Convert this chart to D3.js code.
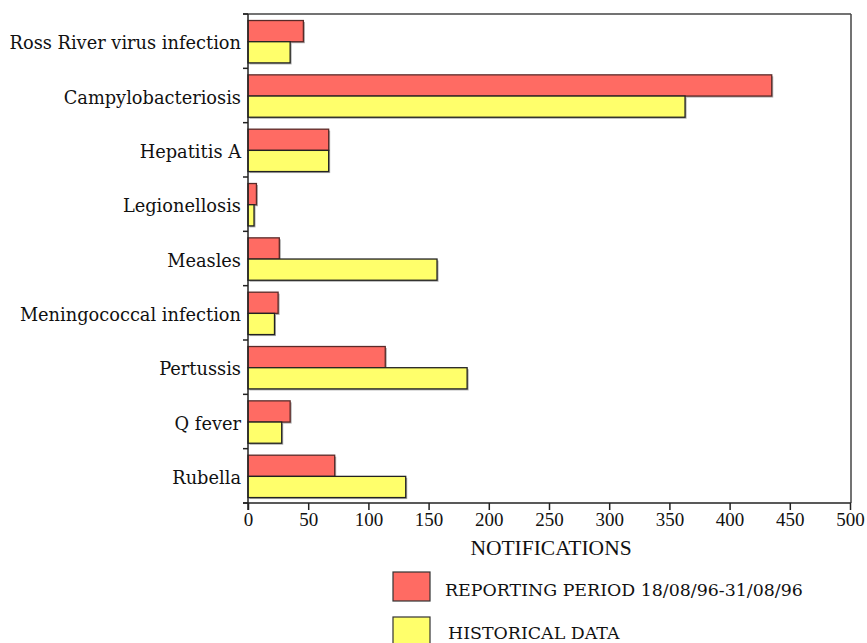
<!DOCTYPE html>
<html><head><meta charset="utf-8">
<script src="https://cdn.jsdelivr.net/npm/d3@7"></script>
<style>
html,body{margin:0;padding:0;background:#fff;}
svg{display:block;}
text{font-family:"Liberation Serif","Times New Roman",serif;fill:#111;}
.cat,.leg{font-family:"DejaVu Serif",serif;}
</style></head>
<body>
<svg id="chart" width="867" height="643"></svg>
<script>
const categories = ["Ross River virus infection","Campylobacteriosis","Hepatitis A","Legionellosis","Measles","Meningococcal infection","Pertussis","Q fever","Rubella"];
const reportingValues = [46,435,67,7,26,25,114,35,72];
const historicalValues = [35,363,67,5,157,22,182,28,131];
const xTicks = [0,50,100,150,200,250,300,350,400,450,500];
const seriesNames = ["REPORTING PERIOD 18/08/96-31/08/96","HISTORICAL DATA"];
const seriesColors = ["#ff6b63","#ffff6b"];
const axisTitle = "NOTIFICATIONS";

const svg = d3.select("#chart");
const L = 248, R = 850, T = 14, B = 503;
const x = d3.scaleLinear().domain([0,500]).range([L,R]);
const y = d3.scaleBand().domain(categories).range([T,B]).padding(0);
const bw = y.bandwidth();

// frame (top and right)
svg.append("line").attr("x1",L-5).attr("x2",R+1).attr("y1",T).attr("y2",T).attr("stroke","#444").attr("stroke-width",1.5);
svg.append("line").attr("x1",R+1).attr("x2",R+1).attr("y1",T).attr("y2",B).attr("stroke","#444").attr("stroke-width",1.5);

const series = [reportingValues, historicalValues];
series.forEach((vals,si)=>{
  const g = svg.append("g");
  g.selectAll("rect.sh").data(categories).join("rect")
    .attr("x", x(0)+1.5)
    .attr("y", c => y(c) + bw*0.12 + si*bw*0.39 + 1.5)
    .attr("width", (c,i) => x(vals[i]) - x(0))
    .attr("height", bw*0.39)
    .attr("fill","#aaa");
  g.selectAll("rect.bar").data(categories).join("rect")
    .attr("x", x(0))
    .attr("y", c => y(c) + bw*0.12 + si*bw*0.39)
    .attr("width", (c,i) => x(vals[i]) - x(0))
    .attr("height", bw*0.39)
    .attr("fill", seriesColors[si])
    .attr("stroke", si===0 ? "#5a2a28" : "#222")
    .attr("stroke-width", 1.3);
});

// left axis
const yAxisG = svg.append("g").attr("transform",`translate(${L},0)`);
yAxisG.append("line").attr("x1",0).attr("x2",0).attr("y1",T).attr("y2",B+7).attr("stroke","#222").attr("stroke-width",1.5);
yAxisG.selectAll("line.tk").data(d3.range(categories.length+1)).join("line")
  .attr("x1",-5).attr("x2",0)
  .attr("y1", i => T + i*bw).attr("y2", i => T + i*bw)
  .attr("stroke","#222").attr("stroke-width",1.5);
yAxisG.selectAll("text").data(categories).join("text")
  .attr("class","cat")
  .attr("x",-7).attr("y", c => y(c)+bw/2+1.5)
  .attr("text-anchor","end").attr("dominant-baseline","central")
  .style("font-size","17.8px").text(c=>c);

// bottom axis
const xAxis = d3.axisBottom(x).tickValues(xTicks).tickSize(7).tickPadding(3).tickFormat(d3.format("d"));
const xg = svg.append("g").attr("transform",`translate(0,${B})`).call(xAxis);
xg.select(".domain").attr("stroke","#222").attr("stroke-width",1.5).attr("d",`M${L-5},0H${R+1}`);
xg.selectAll(".tick line").attr("stroke","#222").attr("stroke-width",1.5);
xg.selectAll(".tick text").style("font-family","'Liberation Serif',serif").style("font-size","19px").attr("fill","#111");

svg.append("text").attr("x",551).attr("y",555).attr("text-anchor","middle").style("font-size","21.5px").text(axisTitle);

// legend
const legend = svg.append("g");
seriesNames.forEach((n,i)=>{
  const yy = 572 + i*45;
  legend.append("rect").attr("x",393).attr("y",yy).attr("width",37).attr("height",29)
    .attr("fill",seriesColors[i]).attr("stroke","#333").attr("stroke-width",1.2);
  legend.append("text").attr("class","leg").attr("x",445 + i*3).attr("y",yy+24 - i*2).style("font-size","17.4px").text(n);
});
</script>
</body></html>
